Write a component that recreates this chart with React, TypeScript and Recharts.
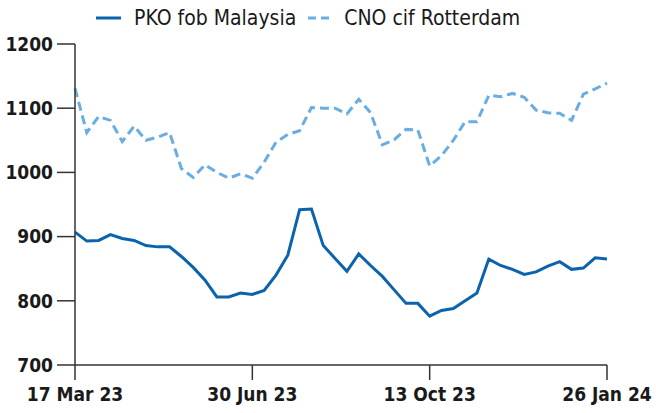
import React from 'react';
import { LineChart, Line, XAxis, YAxis } from 'recharts';

const weeks = [
  '17 Mar 23', '24 Mar 23', '31 Mar 23', '7 Apr 23', '14 Apr 23', '21 Apr 23', '28 Apr 23',
  '5 May 23', '12 May 23', '19 May 23', '26 May 23', '2 Jun 23', '9 Jun 23', '16 Jun 23',
  '23 Jun 23', '30 Jun 23', '7 Jul 23', '14 Jul 23', '21 Jul 23', '28 Jul 23', '4 Aug 23',
  '11 Aug 23', '18 Aug 23', '25 Aug 23', '1 Sep 23', '8 Sep 23', '15 Sep 23', '22 Sep 23',
  '29 Sep 23', '6 Oct 23', '13 Oct 23', '20 Oct 23', '27 Oct 23', '3 Nov 23', '10 Nov 23',
  '17 Nov 23', '24 Nov 23', '1 Dec 23', '8 Dec 23', '15 Dec 23', '22 Dec 23', '29 Dec 23',
  '5 Jan 24', '12 Jan 24', '19 Jan 24', '26 Jan 24',
];

const pkoFobMalaysia = [
  907, 893, 894, 903, 897, 894, 886, 884, 884, 869, 852, 832, 806, 806, 812, 810,
  816, 840, 871, 942, 943, 886, 866, 846, 873, 855, 838, 817, 796, 796, 776, 785,
  788, 800, 812, 865, 855, 849, 841, 845, 854, 861, 849, 851, 867, 865,
];

const cnoCifRotterdam = [
  1131, 1062, 1087, 1081, 1048, 1072, 1050, 1055, 1062, 1006, 992, 1012, 1000, 991, 998, 991,
  1016, 1047, 1059, 1065, 1101, 1100, 1100, 1091, 1114, 1093, 1043, 1051, 1067, 1066, 1010, 1026,
  1050, 1079, 1079, 1120, 1118, 1123, 1117, 1097, 1093, 1092, 1081, 1122, 1130, 1139,
];

const yTicks = [700, 800, 900, 1000, 1100, 1200];

const PKO_COLOR = '#0b63ad';
const CNO_COLOR = '#6aade2';
const AXIS_COLOR = '#333';
const FONT = '"DejaVu Sans Condensed", "DejaVu Sans", sans-serif';

const data = weeks.map((w, i) => ({
  week: w,
  pko: pkoFobMalaysia[i],
  cno: cnoCifRotterdam[i],
}));

const tickStyle = { fill: '#1a1a1a', fontSize: 19, fontWeight: 700, fontFamily: FONT };

const ChartLegend: React.FC = () => (
  <div style={{ position: 'absolute', left: 96, top: 6, display: 'flex', alignItems: 'center', fontFamily: FONT, fontSize: 21, color: '#1a1a1a', whiteSpace: 'nowrap' }}>
    <svg width={25} height={6} style={{ marginRight: 13 }}>
      <line x1={0} y1={3} x2={25} y2={3} stroke={PKO_COLOR} strokeWidth={3} />
    </svg>
    <span style={{ marginRight: 12 }}>PKO fob Malaysia</span>
    <svg width={22} height={6} style={{ marginRight: 14 }}>
      <line x1={0} y1={3} x2={22} y2={3} stroke={CNO_COLOR} strokeWidth={3} strokeDasharray="8 5" />
    </svg>
    <span>CNO cif Rotterdam</span>
  </div>
);

const App: React.FC = () => (
  <div style={{ position: 'absolute', left: 0, top: 0, width: 656, height: 413, background: '#fff' }}>
    <ChartLegend />
    <LineChart width={656} height={413} data={data} margin={{ top: 44, right: 49, bottom: 0, left: 0 }}>
      <XAxis
        dataKey="week"
        interval={14}
        tick={tickStyle}
        tickSize={15}
        tickMargin={8}
        height={48}
        stroke={AXIS_COLOR}
        strokeWidth={1.5}
        padding={{ left: 0, right: 0 }}
      />
      <YAxis
        domain={[700, 1200]}
        ticks={yTicks}
        tick={tickStyle}
        tickSize={18}
        tickMargin={4}
        width={75}
        stroke={AXIS_COLOR}
        strokeWidth={1.5}
        allowDataOverflow
      />
      <Line
        type="linear"
        dataKey="cno"
        stroke={CNO_COLOR}
        strokeWidth={3}
        strokeDasharray="9 5"
        dot={false}
        isAnimationActive={false}
      />
      <Line
        type="linear"
        dataKey="pko"
        stroke={PKO_COLOR}
        strokeWidth={3}
        dot={false}
        isAnimationActive={false}
      />
    </LineChart>
  </div>
);

export default App;
